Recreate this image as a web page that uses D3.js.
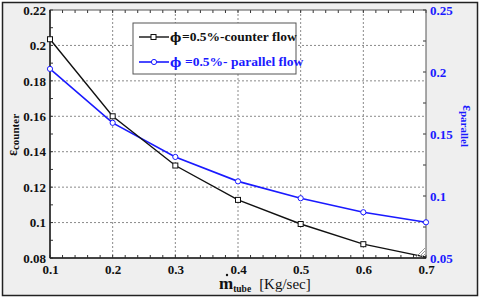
<!DOCTYPE html>
<html>
<head>
	<meta charset='utf-8'>
	<style>
		body { margin: 0; background: #fff; }
		svg { display: block; }
		text { font-family: 'Liberation Serif', 'Times New Roman', serif; }
		.grid line { stroke: #8a8a8a; stroke-dasharray: 2,2; stroke-width: 1; }
		.tick-l text { fill: #111; font-weight: bold; font-size: 13px; }
		.tick-r text { fill: #1a1aff; font-weight: bold; font-size: 13px; }
		.line-counter { fill: none; stroke: #111; stroke-width: 1.4px; }
		.line-parallel { fill: none; stroke: #1a1aff; stroke-width: 1.6px; }
		text.phi { font-family: 'DejaVu Serif', serif; }
	</style>
</head>
<body>
<div id="chart"></div>
<script src='https://d3js.org/d3.v7.min.js'></script>
<script>
	'use strict';

	// данные
	const mTube = [0.1, 0.2, 0.3, 0.4, 0.5, 0.6, 0.7];
	const epsCounter = [0.2035, 0.160, 0.1322, 0.1128, 0.0992, 0.0878, 0.0805];
	const epsParallel = [0.2025, 0.159, 0.1315, 0.1118, 0.0982, 0.0869, 0.0788];
	const xTicks = [0.1, 0.2, 0.3, 0.4, 0.5, 0.6, 0.7];
	const yLeftTicks = [0.08, 0.1, 0.12, 0.14, 0.16, 0.18, 0.2, 0.22];
	const yRightTicks = [0.05, 0.1, 0.15, 0.2, 0.25];
	const legendLabels = ['=0.5%-counter flow', '=0.5%- parallel flow'];

	const FONT = "'Liberation Serif', 'Times New Roman', serif";
	const W = 480, H = 298;
	const margin = {top: 10, right: 54, bottom: 40, left: 50};
	const width = W - margin.left - margin.right;
	const height = H - margin.top - margin.bottom;

	const root = d3.select('#chart').append('svg')
		.attr('width', W).attr('height', H)
		.attr('font-family', FONT);

	// рамка картинки
	root.append('rect').attr('x', 0).attr('y', 0).attr('width', W).attr('height', H).attr('fill', '#fff');
	root.append('rect').attr('x', 2.5).attr('y', 2.5).attr('width', W - 5).attr('height', H - 5)
		.attr('fill', '#efefef').attr('stroke', '#222').attr('stroke-width', 1.5);

	const svg = root.append('g').attr('transform', 'translate(' + margin.left + ',' + margin.top + ')');

	const x = d3.scaleLinear().domain([0.1, 0.7]).range([0, width]);
	const yL = d3.scaleLinear().domain([0.08, 0.22]).range([height, 0]);
	const yR = d3.scaleLinear().domain([0.05, 0.25]).range([height, 0]);

	svg.append('rect').attr('width', width).attr('height', height).attr('fill', '#fff');

	// сетка
	const grid = svg.append('g').attr('class', 'grid');
	grid.selectAll('.gx').data(xTicks.slice(1, -1)).enter().append('line')
		.attr('x1', d => x(d)).attr('x2', d => x(d)).attr('y1', 0).attr('y2', height);
	grid.selectAll('.gy').data(yLeftTicks.slice(1, -1)).enter().append('line')
		.attr('x1', 0).attr('x2', width).attr('y1', d => yL(d)).attr('y2', d => yL(d));

	// мелкие засечки
	const minorX = d3.range(0.1, 0.7001, 0.02);
	const minorY = d3.range(0.08, 0.2201, 0.01);
	const ticksG = svg.append('g').attr('stroke', '#333').attr('stroke-width', 1);
	ticksG.selectAll('.mxb').data(minorX).enter().append('line')
		.attr('x1', d => x(d)).attr('x2', d => x(d)).attr('y1', height).attr('y2', height - 3);
	ticksG.selectAll('.mxt').data(minorX).enter().append('line')
		.attr('x1', d => x(d)).attr('x2', d => x(d)).attr('y1', 0).attr('y2', 3);
	ticksG.selectAll('.myl').data(minorY).enter().append('line')
		.attr('x1', 0).attr('x2', 3).attr('y1', d => yL(d)).attr('y2', d => yL(d));
	ticksG.selectAll('.myr').data(d3.range(0.05, 0.2501, 0.025)).enter().append('line')
		.attr('x1', width).attr('x2', width - 3).attr('y1', d => yR(d)).attr('y2', d => yR(d));

	// оси
	const fmt = d => d3.format('')(+d.toFixed(2));
	svg.append('g').attr('class', 'tick-l')
		.attr('transform', 'translate(0,' + height + ')')
		.call(d3.axisBottom(x).tickValues(xTicks).tickSize(0).tickPadding(7).tickFormat(d3.format('.1f')))
		.attr('font-family', FONT)
		.call(g => g.select('.domain').remove());
	svg.append('g').attr('class', 'tick-l')
		.call(d3.axisLeft(yL).tickValues(yLeftTicks).tickSize(0).tickPadding(4).tickFormat(fmt))
		.attr('font-family', FONT)
		.call(g => g.select('.domain').remove());
	svg.append('g').attr('class', 'tick-r')
		.attr('transform', 'translate(' + width + ',0)')
		.call(d3.axisRight(yR).tickValues(yRightTicks).tickSize(0).tickPadding(4).tickFormat(fmt))
		.attr('font-family', FONT)
		.call(g => g.select('.domain').remove());

	// рамка графика
	svg.append('rect').attr('width', width).attr('height', height)
		.attr('fill', 'none').attr('stroke', '#555').attr('stroke-width', 1);
	svg.append('line').attr('x1', 0).attr('x2', 0).attr('y1', 0).attr('y2', height).attr('stroke', '#222').attr('stroke-width', 1.5);
	svg.append('line').attr('x1', 0).attr('x2', width).attr('y1', height).attr('y2', height).attr('stroke', '#222').attr('stroke-width', 1.5);

	// линии
	const data = mTube.map((m, i) => ({m: m, c: epsCounter[i], p: epsParallel[i]}));
	svg.append('path').datum(data).attr('class', 'line-parallel')
		.attr('d', d3.line().x(d => x(d.m)).y(d => yR(d.p)));
	svg.append('path').datum(data).attr('class', 'line-counter')
		.attr('d', d3.line().x(d => x(d.m)).y(d => yL(d.c)));

	svg.selectAll('.pt-p').data(data).enter().append('circle')
		.attr('cx', d => x(d.m)).attr('cy', d => yR(d.p)).attr('r', 2.6)
		.attr('fill', '#fff').attr('stroke', '#1a1aff').attr('stroke-width', 1);
	svg.selectAll('.pt-c').data(data.slice(0, -1)).enter().append('rect')
		.attr('x', d => x(d.m) - 2.5).attr('y', d => yL(d.c) - 2.5).attr('width', 5).attr('height', 5)
		.attr('fill', '#fff').attr('stroke', '#111').attr('stroke-width', 1);

	// уголок изменения размера
	const grip = svg.append('g').attr('stroke', '#999').attr('stroke-width', 1);
	[0, 3, 6].forEach(o => {
		grip.append('line').attr('x1', width - 10 + o).attr('y1', height - 1).attr('x2', width - 1).attr('y2', height - 10 + o);
	});

	// легенда
	const leg = svg.append('g').attr('transform', 'translate(83,13)');
	leg.append('rect').attr('width', 163).attr('height', 51)
		.attr('fill', '#fff').attr('stroke', '#555').attr('stroke-width', 1);
	const legColors = ['#111', '#1a1aff'];
	legendLabels.forEach((lab, i) => {
		const yy = 14 + i * 25;
		const row = leg.append('g').attr('transform', 'translate(0,' + yy + ')');
		row.append('line').attr('x1', 6).attr('x2', 36).attr('y1', 0).attr('y2', 0)
			.attr('stroke', legColors[i]).attr('stroke-width', i ? 1.6 : 1.4);
		if (i === 0) {
			row.append('rect').attr('x', 18).attr('y', -2.5).attr('width', 5).attr('height', 5)
				.attr('fill', '#fff').attr('stroke', '#111');
		} else {
			row.append('circle').attr('cx', 21).attr('cy', 0).attr('r', 2.6)
				.attr('fill', '#fff').attr('stroke', '#1a1aff');
		}
		row.append('text').attr('class', 'phi').attr('x', 37).attr('y', 5)
			.style('fill', legColors[i]).attr('font-weight', 'bold').attr('font-size', '12px')
			.text('ϕ');
		row.append('text').attr('x', i ? 52 : 49).attr('y', 4)
			.attr('fill', legColors[i]).attr('font-weight', 'bold').attr('font-size', '13.5px')
			.text(lab);
	});

	// подписи осей
	const xl = root.append('text').attr('x', 219).attr('y', 289)
		.attr('fill', '#111').attr('font-size', '15px');
	xl.append('tspan').attr('font-weight', 'bold').attr('font-size', '17px').text('m');
	xl.append('tspan').attr('font-weight', 'bold').attr('font-size', '9.5px').attr('dy', 3).text('tube');
	xl.append('tspan').attr('dy', -3).attr('dx', 8).text('[Kg/sec]');
	root.append('circle').attr('cx', 227).attr('cy', 275).attr('r', 1.2).attr('fill', '#111');

	const yl = root.append('text').attr('transform', 'translate(17,135) rotate(-90)')
		.attr('text-anchor', 'middle').attr('fill', '#111').attr('font-weight', 'bold');
	yl.append('tspan').attr('font-size', '14px').text('ε');
	yl.append('tspan').attr('font-size', '11px').attr('dy', 2).text('counter');

	const yr = root.append('text').attr('transform', 'translate(463,126) rotate(90)')
		.attr('text-anchor', 'middle').attr('fill', '#1a1aff').attr('font-weight', 'bold');
	yr.append('tspan').attr('font-size', '14px').text('ε');
	yr.append('tspan').attr('font-size', '11px').attr('dy', 2).text('parallel');
</script>
</body>
</html>
